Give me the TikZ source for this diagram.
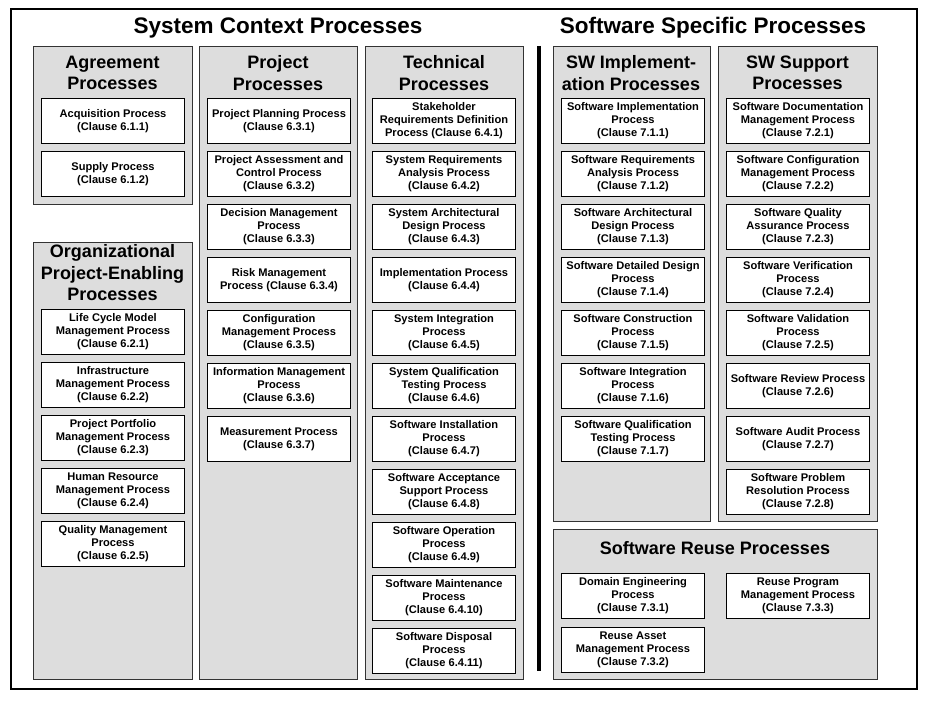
\documentclass[tikz,border=0pt]{standalone}
\usepackage{fontspec}
\setmainfont{Liberation Sans}
\definecolor{panelgray}{RGB}{221,221,221}
\begin{document}
\begin{tikzpicture}[x=1pt,y=-1pt,
  panel/.style={draw=black!80, fill=panelgray, line width=1pt, anchor=north west, inner sep=0pt},
  proc/.style={draw=black, fill=white, line width=1pt, anchor=north west, inner sep=0pt,
    minimum width=143pt, minimum height=45pt, align=center,
    font=\bfseries\fontsize{11.1}{13}\selectfont},
  ptitle/.style={align=center, inner sep=0pt, font=\bfseries\fontsize{18}{21.5}\selectfont},
  mtitle/.style={inner sep=0pt, font=\bfseries\fontsize{22.5}{27}\selectfont}]
\useasboundingbox (0,0) rectangle (938,701);
\fill[white] (0,0) rectangle (938,701);

% outer frame
\node[draw=black, line width=2pt, anchor=north west, inner sep=0pt,
      minimum width=906pt, minimum height=680pt] (frame) at (10,8) {};

% group headings
\node[mtitle] (sysctx) at (278,28) {System Context Processes};
\node[mtitle] (swspec) at (713,28) {Software Specific Processes};

% panels
\node[panel, minimum width=159pt, minimum height=158pt] (agr) at (33,46) {};
\node[panel, minimum width=159pt, minimum height=437pt] (org) at (33,242) {};
\node[panel, minimum width=158pt, minimum height=633pt] (proj) at (199,46) {};
\node[panel, minimum width=158pt, minimum height=633pt] (tech) at (365,46) {};
\node[panel, minimum width=157pt, minimum height=475pt] (swi) at (553,46) {};
\node[panel, minimum width=159pt, minimum height=475pt] (sws) at (718,46) {};
\node[panel, minimum width=324pt, minimum height=150pt] (reuse) at (553,529) {};

% panel headings
\node[ptitle] (agrT) at (112.5,73) {Agreement\\Processes};
\node[ptitle] (projT) at (278,73) {Project\\Processes};
\node[ptitle] (techT) at (444,73) {Technical\\Processes};
\node[ptitle] (swiT) at (631,73) {SW Implement-\\ation Processes};
\node[ptitle] (swsT) at (797.5,73) {SW Support\\Processes};
\node[ptitle] (orgT) at (112.5,273) {Organizational\\Project-Enabling\\Processes};
\node[ptitle] (reuseT) at (715,548) {Software Reuse Processes};

% separator between the two groups
\coordinate (sepTop) at (539,46);
\coordinate (sepBot) at (539,671);
\draw[line width=4pt] (sepTop) -- (sepBot);

\newcommand{\pbox}[4]{\node[proc] (#1) at (#2,#3) {#4};}

% agreement
\pbox{a1}{41}{98}{Acquisition Process\\(Clause 6.1.1)}
\pbox{a2}{41}{151}{Supply Process\\(Clause 6.1.2)}

% organizational project-enabling
\pbox{o1}{41}{309}{Life Cycle Model\\Management Process\\(Clause 6.2.1)}
\pbox{o2}{41}{362}{Infrastructure\\Management Process\\(Clause 6.2.2)}
\pbox{o3}{41}{415}{Project Portfolio\\Management Process\\(Clause 6.2.3)}
\pbox{o4}{41}{468}{Human Resource\\Management Process\\(Clause 6.2.4)}
\pbox{o5}{41}{521}{Quality Management\\Process\\(Clause 6.2.5)}

% project
\pbox{p1}{207}{98}{Project Planning Process\\(Clause 6.3.1)}
\pbox{p2}{207}{151}{Project Assessment and\\Control Process\\(Clause 6.3.2)}
\pbox{p3}{207}{204}{Decision Management\\Process\\(Clause 6.3.3)}
\pbox{p4}{207}{257}{Risk Management\\Process (Clause 6.3.4)}
\pbox{p5}{207}{310}{Configuration\\Management Process\\(Clause 6.3.5)}
\pbox{p6}{207}{363}{Information Management\\Process\\(Clause 6.3.6)}
\pbox{p7}{207}{416}{Measurement Process\\(Clause 6.3.7)}

% technical
\pbox{t1}{372}{98}{Stakeholder\\Requirements Definition\\Process (Clause 6.4.1)}
\pbox{t2}{372}{151}{System Requirements\\Analysis Process\\(Clause 6.4.2)}
\pbox{t3}{372}{204}{System Architectural\\Design Process\\(Clause 6.4.3)}
\pbox{t4}{372}{257}{Implementation Process\\(Clause 6.4.4)}
\pbox{t5}{372}{310}{System Integration\\Process\\(Clause 6.4.5)}
\pbox{t6}{372}{363}{System Qualification\\Testing Process\\(Clause 6.4.6)}
\pbox{t7}{372}{416}{Software Installation\\Process\\(Clause 6.4.7)}
\pbox{t8}{372}{469}{Software Acceptance\\Support Process\\(Clause 6.4.8)}
\pbox{t9}{372}{522}{Software Operation\\Process\\(Clause 6.4.9)}
\pbox{t10}{372}{575}{Software Maintenance\\Process\\(Clause 6.4.10)}
\pbox{t11}{372}{628}{Software Disposal\\Process\\(Clause 6.4.11)}

% software implementation
\pbox{i1}{561}{98}{Software Implementation\\Process\\(Clause 7.1.1)}
\pbox{i2}{561}{151}{Software Requirements\\Analysis Process\\(Clause 7.1.2)}
\pbox{i3}{561}{204}{Software Architectural\\Design Process\\(Clause 7.1.3)}
\pbox{i4}{561}{257}{Software Detailed Design\\Process\\(Clause 7.1.4)}
\pbox{i5}{561}{310}{Software Construction\\Process\\(Clause 7.1.5)}
\pbox{i6}{561}{363}{Software Integration\\Process\\(Clause 7.1.6)}
\pbox{i7}{561}{416}{Software Qualification\\Testing Process\\(Clause 7.1.7)}

% software support
\pbox{s1}{726}{98}{Software Documentation\\Management Process\\(Clause 7.2.1)}
\pbox{s2}{726}{151}{Software Configuration\\Management Process\\(Clause 7.2.2)}
\pbox{s3}{726}{204}{Software Quality\\Assurance Process\\(Clause 7.2.3)}
\pbox{s4}{726}{257}{Software Verification\\Process\\(Clause 7.2.4)}
\pbox{s5}{726}{310}{Software Validation\\Process\\(Clause 7.2.5)}
\pbox{s6}{726}{363}{Software Review Process\\(Clause 7.2.6)}
\pbox{s7}{726}{416}{Software Audit Process\\(Clause 7.2.7)}
\pbox{s8}{726}{469}{Software Problem\\Resolution Process\\(Clause 7.2.8)}

% software reuse
\pbox{r1}{561}{573}{Domain Engineering\\Process\\(Clause 7.3.1)}
\pbox{r2}{561}{627}{Reuse Asset\\Management Process\\(Clause 7.3.2)}
\pbox{r3}{726}{573}{Reuse Program\\Management Process\\(Clause 7.3.3)}
\end{tikzpicture}
\end{document}
